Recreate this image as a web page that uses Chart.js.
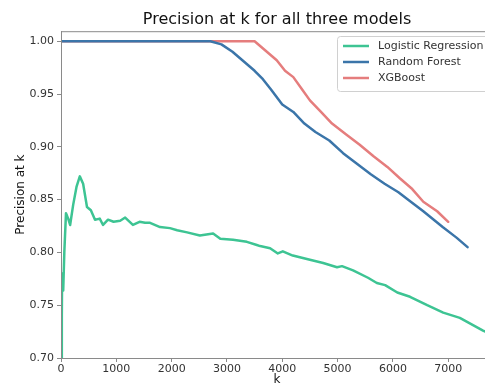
<!DOCTYPE html>
<html>
<head>
<meta charset="utf-8">
<script src="https://cdn.jsdelivr.net/npm/chart.js@4/dist/chart.umd.min.js"></script>
<style>
  html, body { margin: 0; padding: 0; background: #fff; overflow: hidden; }
  #wrap { width: 485px; height: 387px; overflow: hidden; }
  #box { width: 500px; height: 387px; }
</style>
</head>
<body>
<div id="wrap"><div id="box"><canvas id="chart"></canvas></div></div>
<script>
// values
const lrK = [0, 15, 20, 30, 40, 60, 90, 130, 165, 220, 280, 340, 400, 470, 540, 615, 700, 760, 850, 950, 1070, 1160, 1300, 1420, 1520, 1610, 1790, 1970, 2100, 2280, 2510, 2750, 2880, 3110, 3360, 3540, 3600, 3780, 3920, 4010, 4190, 4500, 4740, 4990, 5080, 5280, 5550, 5710, 5860, 6080, 6310, 6620, 6910, 7210, 7630, 7800];
const lrP = [0.700, 0.740, 0.780, 0.775, 0.764, 0.800, 0.837, 0.832, 0.826, 0.845, 0.862, 0.872, 0.865, 0.843, 0.840, 0.831, 0.832, 0.826, 0.831, 0.829, 0.830, 0.833, 0.826, 0.829, 0.828, 0.828, 0.824, 0.823, 0.821, 0.819, 0.816, 0.818, 0.813, 0.812, 0.810, 0.807, 0.806, 0.804, 0.799, 0.801, 0.797, 0.793, 0.790, 0.786, 0.787, 0.783, 0.776, 0.771, 0.769, 0.762, 0.758, 0.750, 0.743, 0.738, 0.726, 0.722];

const rfK = [0, 2700, 2900, 3100, 3300, 3500, 3650, 3800, 4000, 4200, 4400, 4600, 4850, 5100, 5350, 5600, 5850, 6100, 6300, 6550, 6900, 7150, 7350];
const rfP = [1.0, 1.0, 0.997, 0.990, 0.981, 0.972, 0.964, 0.954, 0.940, 0.933, 0.922, 0.914, 0.906, 0.894, 0.884, 0.874, 0.865, 0.857, 0.849, 0.839, 0.824, 0.814, 0.805];

const xgK = [0, 3500, 3700, 3900, 4050, 4200, 4350, 4500, 4700, 4900, 5150, 5400, 5650, 5900, 6130, 6350, 6550, 6800, 7000];
const xgP = [1.0, 1.0, 0.991, 0.982, 0.972, 0.966, 0.955, 0.944, 0.933, 0.922, 0.912, 0.902, 0.891, 0.881, 0.870, 0.860, 0.848, 0.839, 0.829];

const xTicks = [0, 1000, 2000, 3000, 4000, 5000, 6000, 7000];
const yTicks = [0.70, 0.75, 0.80, 0.85, 0.90, 0.95, 1.00];

const seriesNames = ['Logistic Regression', 'Random Forest', 'XGBoost'];
const colors = ['#3dc493', '#3b75a9', '#e57d7d'];

const toPoints = (ks, ps) => ks.map((k, i) => ({ x: k, y: ps[i] }));

const FONT = "'DejaVu Sans', sans-serif";
const AXIS = '#8a8a8a';

// frame around the plot area (matplotlib style box)
const frame = {
  id: 'frame',
  afterDatasetsDraw(chart) {
    const { ctx, chartArea: a } = chart;
    ctx.save();
    ctx.strokeStyle = AXIS;
    ctx.lineWidth = 1;
    ctx.strokeRect(a.left + 0.5, a.top + 0.5, a.right - a.left, a.bottom - a.top);
    ctx.restore();
  }
};

// legend drawn inside the axes, upper right
const innerLegend = {
  id: 'innerLegend',
  afterDraw(chart) {
    const ctx = chart.ctx;
    const x0 = 337, y0 = 36, w = 160, h = 55;
    ctx.save();
    ctx.fillStyle = 'rgba(255,255,255,0.85)';
    ctx.strokeStyle = '#d0d0d0';
    ctx.lineWidth = 1;
    ctx.beginPath();
    ctx.roundRect(x0 + 0.5, y0 + 0.5, w, h, 3);
    ctx.fill();
    ctx.stroke();
    ctx.font = '11px ' + FONT;
    ctx.textBaseline = 'middle';
    seriesNames.forEach((name, i) => {
      const y = y0 + 10 + i * 16;
      ctx.strokeStyle = colors[i];
      ctx.lineWidth = 2.5;
      ctx.beginPath();
      ctx.moveTo(x0 + 6, y);
      ctx.lineTo(x0 + 32, y);
      ctx.stroke();
      ctx.fillStyle = '#333';
      ctx.fillText(name, x0 + 41, y);
    });
    ctx.restore();
  }
};

new Chart(document.getElementById('chart'), {
  type: 'line',
  data: {
    datasets: [
      { label: seriesNames[0], data: toPoints(lrK, lrP), borderColor: colors[0] },
      { label: seriesNames[1], data: toPoints(rfK, rfP), borderColor: colors[1] },
      { label: seriesNames[2], data: toPoints(xgK, xgP), borderColor: colors[2] }
    ]
  },
  options: {
    responsive: true,
    maintainAspectRatio: false,
    animation: false,
    layout: { padding: { left: 0, right: 7, top: 0, bottom: 0 } },
    elements: {
      point: { radius: 0 },
      line: { borderWidth: 2.5, tension: 0, borderCapStyle: 'round', borderJoinStyle: 'round' }
    },
    plugins: {
      legend: { display: false },
      tooltip: { enabled: false },
      title: {
        display: true,
        text: 'Precision at k for all three models',
        fullSize: false,
        color: '#111',
        font: { family: FONT, size: 16, weight: 'normal' },
        padding: { top: 10, bottom: 2 }
      }
    },
    scales: {
      x: {
        type: 'linear',
        min: 0,
        max: 7810,
        afterBuildTicks: (s) => { s.ticks = xTicks.map(v => ({ value: v })); },
        afterFit: (s) => { s.height = 29; },
        grid: { drawOnChartArea: false, tickLength: 4, color: AXIS },
        border: { color: AXIS },
        ticks: { color: '#333', padding: 1, maxRotation: 0, callback: (v) => String(v), font: { family: FONT, size: 11 } },
        title: { display: true, text: 'k', color: '#111', padding: { top: 0, bottom: 0 }, font: { family: FONT, size: 12 } }
      },
      y: {
        min: 0.70,
        max: 1.0095,
        afterBuildTicks: (s) => { s.ticks = yTicks.map(v => ({ value: v })); },
        afterFit: (s) => { s.width = 61; },
        grid: { drawOnChartArea: false, tickLength: 4, color: AXIS },
        border: { color: AXIS },
        ticks: { color: '#333', padding: 3, callback: (v) => v.toFixed(2), font: { family: FONT, size: 11 } },
        title: { display: true, text: 'Precision at k', color: '#111', padding: { top: 14, bottom: 0 }, font: { family: FONT, size: 12 } }
      }
    }
  },
  plugins: [frame, innerLegend]
});
</script>
</body>
</html>
